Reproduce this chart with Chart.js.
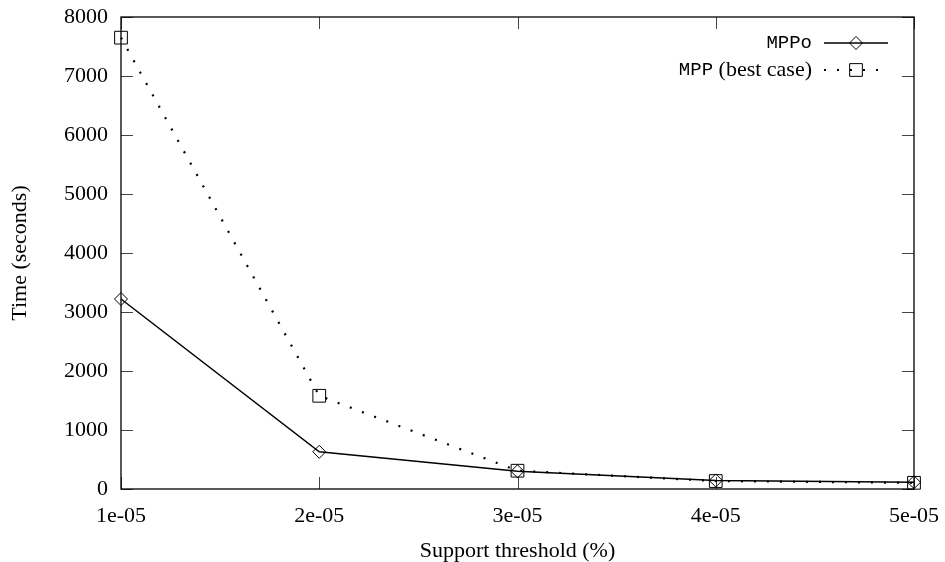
<!DOCTYPE html>
<html>
<head>
<meta charset="utf-8">
<script src="https://cdn.jsdelivr.net/npm/chart.js@4"></script>
<style>
  html, body { margin: 0; padding: 0; background: #fff; }
  #wrap { width: 945px; height: 562px; }
</style>
</head>
<body>
<div id="wrap"><canvas id="chart" width="945" height="562"></canvas></div>
<script>
// ── Data ──────────────────────────────────────
const thresholds = ['1e-05', '2e-05', '3e-05', '4e-05', '5e-05'];
const mppoTimes = [3220, 630, 300, 145, 115];
const mppBestTimes = [7650, 1580, 310, 135, 105];
const yTicks = [0, 1000, 2000, 3000, 4000, 5000, 6000, 7000, 8000];

const SERIF = '"Liberation Serif", "DejaVu Serif", serif';
const MONO = '"Liberation Mono", "DejaVu Sans Mono", monospace';

// ── Frame + inward ticks (gnuplot style) ──────
const framePlugin = {
  id: 'frame',
  beforeDatasetsDraw(chart) {
    const { ctx, chartArea: a, scales } = chart;
    ctx.save();
    ctx.strokeStyle = '#444';
    ctx.lineWidth = 1;
    ctx.beginPath();
    yTicks.forEach(v => {
      const y = Math.round(scales.y.getPixelForValue(v)) + 0.5;
      ctx.moveTo(a.left, y); ctx.lineTo(a.left + 12, y);
      ctx.moveTo(a.right, y); ctx.lineTo(a.right - 12, y);
    });
    thresholds.forEach((t, i) => {
      const x = Math.round(scales.x.getPixelForValue(i)) + 0.5;
      ctx.moveTo(x, a.bottom); ctx.lineTo(x, a.bottom - 12);
      ctx.moveTo(x, a.top); ctx.lineTo(x, a.top + 12);
    });
    ctx.stroke();
    ctx.strokeStyle = '#000';
    ctx.lineWidth = 1.3;
    ctx.strokeRect(a.left, a.top, a.right - a.left, a.bottom - a.top);
    ctx.restore();
  }
};

// ── Legend (top right, inside plot) ───────────
const legendPlugin = {
  id: 'gpLegend',
  afterDraw(chart) {
    const { ctx } = chart;
    const textRight = 812, x0 = 824, x1 = 888, xm = 856;
    const rows = [
      { y: 43, parts: [['MPPo', MONO]], ds: chart.data.datasets[0] },
      { y: 70, parts: [['MPP', MONO], [' (best case)', SERIF]], ds: chart.data.datasets[1] }
    ];
    ctx.save();
    ctx.textBaseline = 'middle';
    rows.forEach(r => {
      const fonts = r.parts.map(p => (p[1] === MONO ? '19px ' : '22px ') + p[1]);
      let w = 0;
      r.parts.forEach((p, i) => { ctx.font = fonts[i]; w += ctx.measureText(p[0]).width; });
      let x = textRight - w;
      ctx.fillStyle = '#000';
      r.parts.forEach((p, i) => {
        ctx.font = fonts[i];
        ctx.textAlign = 'left';
        ctx.fillText(p[0], x, r.y);
        x += ctx.measureText(p[0]).width;
      });
      ctx.strokeStyle = '#000';
      ctx.lineWidth = r.ds.borderWidth;
      ctx.setLineDash(r.ds.borderDash || []);
      ctx.beginPath();
      ctx.moveTo(x0, r.y); ctx.lineTo(x1, r.y);
      ctx.stroke();
      ctx.setLineDash([]);
      ctx.lineWidth = 1;
      ctx.fillStyle = 'rgba(0,0,0,0)';
      Chart.helpers.drawPoint(ctx, {
        pointStyle: r.ds.pointStyle, radius: r.ds.pointRadius, rotation: 0, borderWidth: 1
      }, xm, r.y);
    });
    ctx.restore();
  }
};

// ── Chart ─────────────────────────────────────
new Chart(document.getElementById('chart'), {
  type: 'line',
  data: {
    labels: thresholds,
    datasets: [
      {
        label: 'MPPo',
        data: mppoTimes,
        borderColor: '#000',
        borderWidth: 1.5,
        pointStyle: 'rectRot',
        pointRadius: 6.5,
        pointBorderWidth: 1,
        pointBorderColor: '#000',
        pointBackgroundColor: 'rgba(0,0,0,0)',
        tension: 0,
        clip: false
      },
      {
        label: 'MPP (best case)',
        data: mppBestTimes,
        borderColor: '#000',
        borderWidth: 2.2,
        borderDash: [2, 11],
        borderCapStyle: 'butt',
        pointStyle: 'rect',
        pointRadius: 9,
        pointBorderWidth: 1,
        pointBorderColor: '#000',
        pointBackgroundColor: 'rgba(0,0,0,0)',
        tension: 0,
        clip: false
      }
    ]
  },
  options: {
    responsive: false,
    animation: false,
    layout: { padding: { top: 17, right: 31, left: 0, bottom: 0 } },
    plugins: { legend: { display: false }, tooltip: { enabled: false } },
    scales: {
      x: {
        type: 'category',
        offset: false,
        grid: { display: false, drawTicks: false },
        border: { display: false },
        ticks: { color: '#000', font: { family: SERIF, size: 22 }, padding: 14, maxRotation: 0, autoSkip: false },
        title: { display: true, text: 'Support threshold (%)', color: '#000', font: { family: SERIF, size: 22, lineHeight: 1 }, padding: { top: 0, bottom: 0 } },
        afterFit: s => { s.height = 73; s.paddingLeft = 0; s.paddingRight = 0; }
      },
      y: {
        min: 0,
        max: 8000,
        grid: { display: false, drawTicks: false },
        border: { display: false },
        afterBuildTicks: s => { s.ticks = yTicks.map(v => ({ value: v })); },
        ticks: { color: '#000', font: { family: SERIF, size: 22 }, padding: 13, callback: v => String(v) },
        title: { display: true, text: 'Time (seconds)', color: '#000', font: { family: SERIF, size: 22 }, padding: { top: 7, bottom: 0 } },
        afterFit: s => { s.width = 121; s.paddingTop = 0; s.paddingBottom = 0; }
      }
    }
  },
  plugins: [framePlugin, legendPlugin]
});
</script>
</body>
</html>
